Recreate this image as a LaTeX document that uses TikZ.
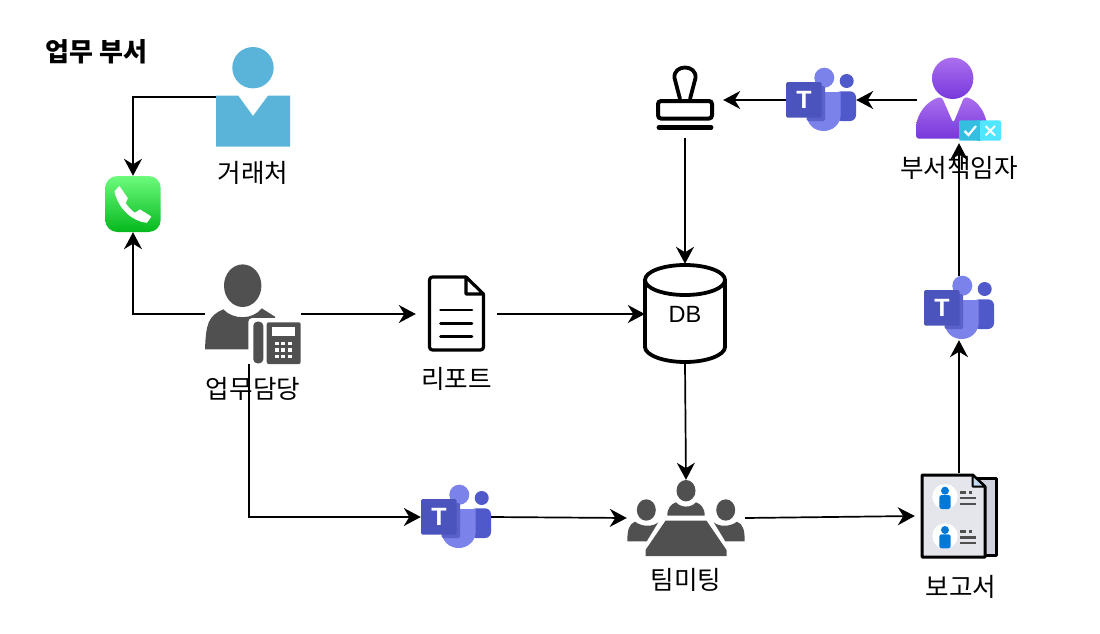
\documentclass[tikz,border=0pt]{standalone}
\usepackage{fontspec}
\setmainfont{Noto Sans CJK KR}
\newfontfamily\latinfont{Liberation Sans}
\usetikzlibrary{positioning,arrows.meta}
\definecolor{clientblue}{HTML}{5AB4DA}
\definecolor{graydark}{HTML}{505050}
\definecolor{phonetop}{HTML}{6DFB7D}
\definecolor{phonebot}{HTML}{05B81D}
\definecolor{teamslight}{HTML}{7B83EB}
\definecolor{teamsdark}{HTML}{5059C9}
\definecolor{teamssq}{HTML}{4B53BC}
\definecolor{teamsshadow}{HTML}{5A61C8}
\definecolor{purpletop}{HTML}{AB6FEE}
\definecolor{purplebot}{HTML}{7738DB}
\definecolor{badgea}{HTML}{34BFE0}
\definecolor{badgeb}{HTML}{50E6FF}
\definecolor{pagefront}{HTML}{E4E6EC}
\definecolor{pageback}{HTML}{D0D2DE}
\definecolor{foldblue}{HTML}{BFD9EE}
\definecolor{avatarblue}{HTML}{0078D7}

\begin{document}
\begin{tikzpicture}[x=1pt, y=-1pt,
  node distance=13pt and 10pt,
  icon/.style 2 args={inner sep=0pt, minimum width=#1, minimum height=#2},
  lbl/.style={inner sep=0pt, text height=20pt, text depth=4pt, font=\fontsize{25.6}{28}\selectfont},
  arr/.style={-{Stealth[length=17pt, width=18pt, inset=5.5pt]}, line width=1.7pt},
  clientpic/.pic={
    \fill[clientblue] (0,-29.3) circle[radius=20.7];
    \fill[clientblue] (-37,-1.3) -- (-14.7,-1.3) -- (0,19) -- (15,-1.3) -- (37,-1.3) -- (37,49.7) -- (-37,49.7) -- cycle;
  },
  phonepic/.pic={
    \shade[rounded corners=12pt, top color=phonetop, bottom color=phonebot] (-27.7,-28) rectangle (27.7,28);
    \filldraw[white, line width=1pt, line join=round] (-18,-12.3) -- (-13.7,-17.3) -- (-5.7,-5.7) -- (-8,-0.7) .. controls (-5,3) and (-2,7) .. (2,9.3) -- (7,6) -- (17.7,12.7) -- (13.7,18.3) .. controls (0,17) and (-14,5) .. (-18,-12.3) -- cycle;
  },
  workerpic/.pic={
    \fill[graydark] (-10.3,-28.3) ellipse[x radius=18.7, y radius=21.3];
    \fill[graydark] (-48,35.3) .. controls (-47,10) and (-45,2) .. (-29.7,-4.7) .. controls (-20,6) and (0,6) .. (8.7,-5.7) -- (22,2.7) -- (22,35.3) -- cycle;
    \fill[white, rounded corners=4pt] (-4.7,4) rectangle (50,54);
    \fill[graydark, rounded corners=4pt] (0.3,7.7) rectangle (10.3,49.3);
    \fill[graydark, rounded corners=2pt] (13.7,8.3) rectangle (47.7,50);
    \fill[white] (19.3,12.7) rectangle (42,22);
    \foreach \kx in {21.7,28.2,34.7}
      \foreach \ky in {27.7,34,40.5}
        \fill[white] (\kx,\ky) rectangle ++(4.2,3.6);
  },
  reportpic/.pic={
    \draw[line width=3.2pt, line join=round, rounded corners=3pt] (9.5,-37) -- (-27,-37) -- (-27,36) -- (27,36) -- (27,-20);
    \draw[line width=3.2pt, line join=round] (27,-20) -- (9.5,-37) -- (9.5,-20) -- cycle;
    \foreach \ly in {-4,9.3,22.7}
      \draw[line width=2.8pt, line cap=round] (-16,\ly) -- (15.5,\ly);
  },
  dbpic/.pic={
    \draw[line width=3.8pt] (-40,-34) -- (-40,33) .. controls (-40,41) and (-22,48) .. (0,48) .. controls (22,48) and (40,41) .. (40,33) -- (40,-34);
    \draw[line width=3.8pt] (0,-34) ellipse[x radius=40, y radius=15];
  },
  stamppic/.pic={
    \draw[line width=3.8pt, line join=round] (-5,-1) -- (-10.5,-22) .. controls (-12,-36) and (12,-36) .. (10.5,-22) -- (5,-1);
    \draw[line width=4pt, rounded corners=3pt, fill=white] (-27,1) rectangle (27,18.5);
    \draw[line width=4.8pt, line cap=round] (-26,27.3) -- (26,27.3);
  },
  teamspic/.pic={
    \fill[teamsdark, rounded corners=6pt] (14,-8.7) -- (35,-8.7) -- (35,21) -- (14,21) -- cycle;
    \fill[teamslight] (3.3,-22.3) circle[radius=10];
    \fill[teamsdark] (25.7,-19) circle[radius=7];
    \fill[teamslight] (-14.3,-8) -- (19.7,-8) -- (19.7,14) .. controls (19.7,25) and (11,31) .. (2.7,31) .. controls (-6,31) and (-14.3,25) .. (-14.3,14) -- cycle;
    \fill[teamsshadow, rounded corners=1.5pt] (-14.3,-14) rectangle (4,21);
    \fill[teamssq, rounded corners=1.5pt] (-35,-18) rectangle (0.7,17.7);
    \node[inner sep=0pt, text=white, font=\latinfont\bfseries\fontsize{25}{25}\selectfont] (tee) at (-17,-0.5) {T};
  },
  approverpic/.pic={
    \shade[top color=purpletop, bottom color=purplebot] (-6.3,-21.7) circle[radius=20.7];
    \shade[top color=purpletop, bottom color=purplebot, rounded corners=3pt] (-43,38.7) -- (-43,32) .. controls (-43,12) and (-30,0) .. (-17.3,-3.3) -- (-5.7,23.3) -- (5.3,-3.3) .. controls (18,0) and (29,12) .. (29,38.7) -- cycle;
    \fill[badgea, rounded corners=2pt] (0,20.3) rectangle (24,40.7);
    \fill[badgeb, rounded corners=2pt] (21,20.3) rectangle (42,40.7);
    \fill[badgea] (18,20.3) rectangle (21,40.7);
    \draw[white, line width=2.2pt] (5.5,31) -- (9.5,35) -- (17,26);
    \draw[white, line width=1.8pt] (26.5,26) -- (36,35.5) (36,26) -- (26.5,35.5);
  },
  meetingpic/.pic={
    \fill[graydark] (0,-27.3) ellipse[x radius=9.5, y radius=10.7];
    \fill[graydark] (-18.7,-2.3) .. controls (-18.7,-10) and (-15,-14) .. (-10,-15.7) .. controls (-5,-10) and (5,-10) .. (10,-15.7) .. controls (15,-14) and (18.7,-10) .. (18.7,-2.3) -- cycle;
    \fill[graydark] (-20.5,2.7) -- (20.5,2.7) -- (40.5,32) -- (40.5,38) -- (-40.5,38) -- (-40.5,32) -- cycle;
    \foreach \sx in {-1,1} {
      \fill[graydark] (\sx*39.7,-8) ellipse[x radius=9.5, y radius=10.7];
      \fill[graydark] (\sx*58.7,23.3) .. controls (\sx*58.7,12) and (\sx*57,6) .. (\sx*51,3.7) .. controls (\sx*44,9) and (\sx*33,9) .. (\sx*27.7,4.3) -- (\sx*39.3,23.3) -- cycle;
    }
  },
  paperpic/.pic={
    \draw[line width=3pt, fill=pageback, line join=round] (18,-38) -- (37,-38) -- (37,39) -- (18,39) -- cycle;
    \draw[line width=3pt, fill=pagefront, line join=round] (-37,-41) -- (13.7,-41) -- (26,-29.3) -- (26,41) -- (-37,41) -- cycle;
    \draw[line width=2pt, fill=foldblue, line join=round] (13.7,-41) -- (26,-29.3) -- (13.7,-29.3) -- cycle;
    \foreach \ay in {-19.3,20} {
      \fill[white] (-14,\ay) circle[radius=12.7];
      \fill[avatarblue] (-14,\ay-6) circle[radius=4];
      \fill[avatarblue, rounded corners=2.5pt] (-19.7,\ay-1.7) rectangle (-8.3,\ay+12.3);
      \fill[graydark] (1.3,\ay-5.6) rectangle ++(5.4,2.4);
      \fill[graydark] (10,\ay-5.6) rectangle ++(2.8,2.4);
      \fill[graydark] (1.3,\ay+0.1) rectangle ++(15.7,2.4);
      \fill[graydark] (1.3,\ay+5.8) rectangle ++(15.7,2.4);
    }
  }]
\useasboundingbox (0,0) rectangle (1100,634);
\node[inner sep=0pt, font=\bfseries\fontsize{26}{28}\selectfont] (title) at (96.5,52) {업무 부서};
\node[icon={74pt}{100pt}] (client) at (253,97) {};
\node[icon={56pt}{56pt}] (phone) at (133,204) {};
\node[icon={96pt}{100pt}] (worker) at (253,314) {};
\node[icon={81pt}{76pt}] (report) at (456.5,314) {};
\node[icon={80pt}{100pt}, font=\latinfont\fontsize{23.5}{24}\selectfont] (db) at (685,314) {DB};
\node[icon={76pt}{76pt}] (stamp) at (685,100) {};
\node[icon={70pt}{64pt}] (teamsb) at (821,100) {};
\node[icon={84pt}{86pt}] (approver) at (959,100) {};
\node[icon={70pt}{64pt}] (teamsc) at (959,308) {};
\node[icon={70pt}{64pt}] (teamsa) at (456,517) {};
\node[icon={118pt}{76pt}] (meeting) at (686,518) {};
\node[icon={88pt}{86pt}] (paper) at (959,516) {};
\pic at (client) {clientpic};
\pic at (phone) {phonepic};
\pic at (worker) {workerpic};
\pic at (report) {reportpic};
\pic at (db) {dbpic};
\pic at (stamp) {stamppic};
\pic at (teamsb) {teamspic};
\pic at (approver) {approverpic};
\pic at (teamsc) {teamspic};
\pic at (teamsa) {teamspic};
\pic at (meeting) {meetingpic};
\pic at (paper) {paperpic};
\node[lbl, below=15pt of client] (clienttxt) {거래처};
\node[lbl, below=14pt of worker] (workertxt) {업무담당};
\node[lbl, below=16pt of report] (reporttxt) {리포트};
\node[lbl, below=14pt of approver] (approvertxt) {부서책임자};
\node[lbl, below=13pt of meeting] (meetingtxt) {팀미팅};
\node[lbl, below=17pt of paper, xshift=2pt] (papertxt) {보고서};
\draw[arr] (client.west) -| (phone.north);
\draw[arr] (worker.west) -| (phone.south);
\draw[arr] (worker.east) -- (report.west);
\draw[arr] (report.east) -- (db.west);
\draw[arr] (stamp.south) -- (db.north);
\draw[arr] (db.south) -- (meeting.north);
\draw[arr] ([xshift=-4pt]worker.south) |- (teamsa.west);
\draw[arr] (teamsa.east) -- (meeting.west);
\draw[arr] (meeting.east) -- (paper.west);
\draw[arr] (paper.north) -- (teamsc.south);
\draw[arr] (teamsc.north) -- (approver.south);
\draw[arr] (approver.west) -- (teamsb.east);
\draw[arr] (teamsb.west) -- (stamp.east);
\end{tikzpicture}
\end{document}
